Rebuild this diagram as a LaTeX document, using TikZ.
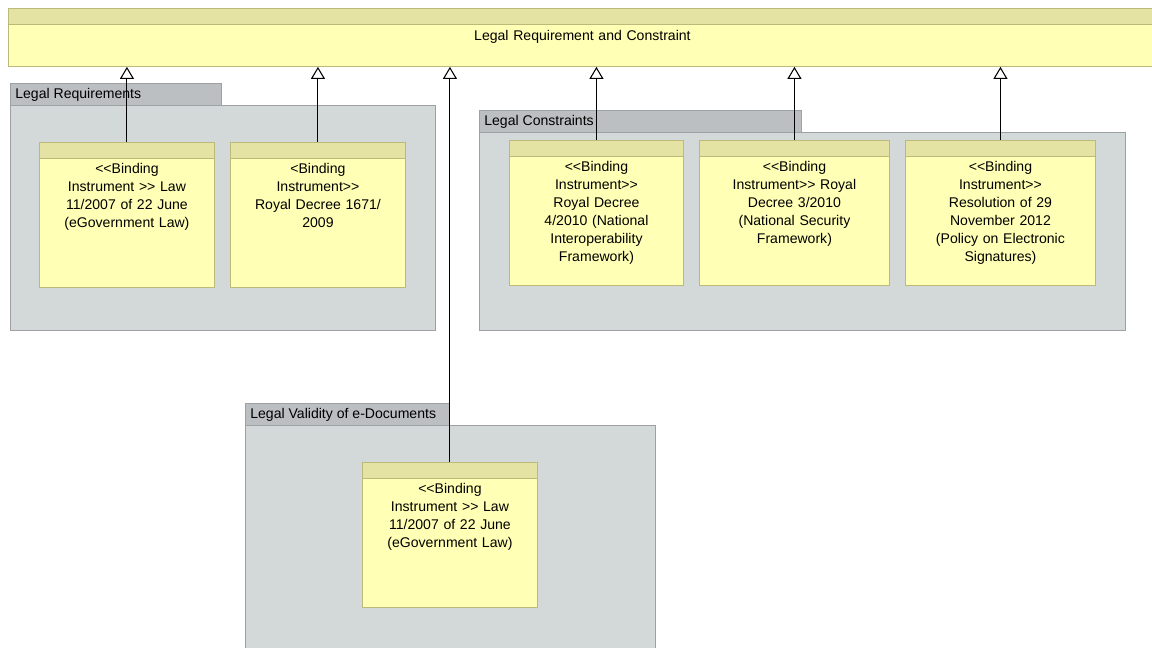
\documentclass[tikz,border=0pt]{standalone}
\usepackage{fontspec}
\setmainfont{Liberation Sans}[Ligatures=TeXOff]
\usetikzlibrary{positioning,arrows.meta,calc}
\definecolor{elemfill}{HTML}{FFFFB5}
\definecolor{elemhead}{HTML}{E5E3A3}
\definecolor{elemline}{HTML}{BDB97A}
\definecolor{grpfill}{HTML}{D3D8D9}
\definecolor{grptabfill}{HTML}{BCBFC1}
\definecolor{grpline}{HTML}{9DA1A3}
\tikzset{
  grp/.style   ={draw=grpline, fill=grpfill, anchor=north west, inner sep=0pt, line width=0.5pt},
  grptab/.style={draw=grpline, fill=grptabfill, anchor=north west, inner sep=0pt, minimum height=4.4mm, line width=0.5pt},
  elem/.style  ={draw=elemline, fill=elemfill, anchor=north west, inner sep=0pt, minimum height=29mm, line width=0.5pt},
  elemhd/.style={draw=elemline, fill=elemhead, line width=0.5pt},
  txt/.style   ={font=\fontsize{8}{10.2}\selectfont, align=center, text width=33mm, anchor=north, inner sep=0pt},
  tabtxt/.style={font=\fontsize{8}{10}\selectfont, anchor=west, inner sep=0pt},
  gen/.style   ={-{Triangle[open,width=2.8mm,length=2.4mm]}, line width=0.6pt},
}

\begin{document}
\begin{tikzpicture}[x=0.2mm,y=-0.2mm]
\useasboundingbox (0,0) rectangle (1152,647);
% generalised element
\node[elem, minimum width=229.6mm, minimum height=11.6mm] (top) at (8,8) {};
% groups
\node[grptab, minimum width=42.2mm] (reqtab) at (10,83) {};
\node[grp, minimum width=85mm, minimum height=45mm] (reqgrp) at (10,105) {};
\node[tabtxt] (reqlbl) at ([xshift=1mm]reqtab.west) {Legal Requirements};
\node[grptab, minimum width=64.4mm] (contab) at (479,110) {};
\node[grp, minimum width=129.2mm, minimum height=39.6mm] (congrp) at (479,132) {};
\node[tabtxt] (conlbl) at ([xshift=1mm]contab.west) {Legal Constraints};
\node[grptab, minimum width=40.8mm] (valtab) at (245,403) {};
\node[grp, minimum width=82mm, minimum height=48mm] (valgrp) at (245,425) {};
\node[tabtxt] (vallbl) at ([xshift=1mm]valtab.west) {Legal Validity of e-Documents};
% binding instruments
\node[elem, minimum width=35mm] (req1) at (39,142) {};
\node[elem, minimum width=35mm] (req2) at (230,142) {};
\node[elem, minimum width=34.8mm] (con1) at (509,140) {};
\node[elem, minimum width=38mm] (con2) at (699,140) {};
\node[elem, minimum width=38mm] (con3) at (905,140) {};
\node[elem, minimum width=35mm] (val1) at (362,462) {};
\foreach \n in {top,req1,req2,con1,con2,con3,val1}
  \draw[elemhd] (\n.north west) rectangle ([yshift=-3.2mm]\n.north east);
% texts
\node[txt, text width=100mm] (toptxt) at ([yshift=-4.4mm]top.north) {Legal Requirement and Constraint};
\node[txt] (req1t) at ([yshift=-4.2mm]req1.north) {<<Binding\\Instrument >> Law\\11/2007 of 22 June\\(eGovernment Law)};
\node[txt] (req2t) at ([yshift=-4.2mm]req2.north) {<Binding\\Instrument>>\\Royal Decree 1671/\\2009};
\node[txt] (con1t) at ([yshift=-4.2mm]con1.north) {<<Binding\\Instrument>>\\Royal Decree\\4/2010 (National\\Interoperability\\Framework)};
\node[txt] (con2t) at ([yshift=-4.2mm]con2.north) {<<Binding\\Instrument>> Royal\\Decree 3/2010\\(National Security\\Framework)};
\node[txt] (con3t) at ([yshift=-4.2mm]con3.north) {<<Binding\\Instrument>>\\Resolution of 29\\November 2012\\(Policy on Electronic\\Signatures)};
\node[txt] (val1t) at ([yshift=-4.2mm]val1.north) {<<Binding\\Instrument >> Law\\11/2007 of 22 June\\(eGovernment Law)};
% specialisation arrows
\foreach \n in {req1,req2,con1,con2,con3,val1}
  \draw[gen] (\n.north) -- (\n.north |- top.south);
\end{tikzpicture}
\end{document}
